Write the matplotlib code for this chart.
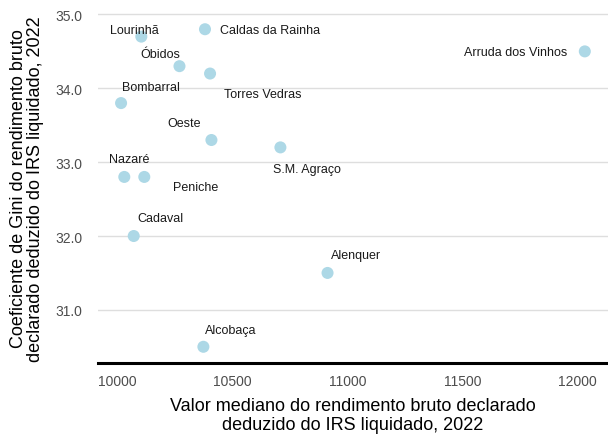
import numpy as np
import matplotlib
matplotlib.use("Agg")
import matplotlib.pyplot as plt

plt.rcParams['font.family'] = ['Liberation Sans', 'DejaVu Sans']

# municipios do Oeste + sub-regiao
concelhos = ['Lourinhã', 'Caldas da Rainha', 'Arruda dos Vinhos', 'Óbidos',
             'Torres Vedras', 'Bombarral', 'Oeste', 'S.M. Agraço', 'Nazaré',
             'Peniche', 'Cadaval', 'Alenquer', 'Alcobaça']
mediano = [10104, 10381, 12033, 10270, 10403, 10016, 10409, 10709, 10030,
           10117, 10071, 10914, 10374]
gini = [34.7, 34.8, 34.5, 34.3, 34.2, 33.8, 33.3, 33.2, 32.8,
        32.8, 32.0, 31.5, 30.5]

# label offsets in pixels (repel-like placement)
offsets = {
    'Lourinhã': (-7, 7), 'Caldas da Rainha': (65, -1), 'Arruda dos Vinhos': (-69, -1),
    'Óbidos': (-19, 12), 'Torres Vedras': (53, -20), 'Bombarral': (30, 16),
    'Oeste': (-27, 17), 'S.M. Agraço': (27, -22), 'Nazaré': (5, 18),
    'Peniche': (51, -10), 'Cadaval': (27, 18), 'Alenquer': (28, 18),
    'Alcobaça': (27, 17),
}

fig = plt.figure(figsize=(6.08, 4.35), dpi=100)
ax = fig.add_axes([0.161, 0.164, 0.839, 0.803])

ax.scatter(mediano, gini, s=75, color='#ADD8E6', edgecolors='none', zorder=3)
for nome, x, y in zip(concelhos, mediano, gini):
    dx, dy = offsets[nome]
    ax.annotate(nome, (x, y), xytext=(dx, dy), textcoords='offset pixels',
                ha='center', va='center', fontsize=9, color='#1a1a1a', zorder=4)

span_x = max(mediano) - min(mediano)
span_y = max(gini) - min(gini)
ax.set_xlim(min(mediano) - 0.05 * span_x, max(mediano) + 0.05 * span_x)
ax.set_ylim(min(gini) - 0.05 * span_y, max(gini) + 0.05 * span_y)

ax.set_xticks([10000, 10500, 11000, 11500, 12000])
ax.set_yticks([31, 32, 33, 34, 35])
ax.set_yticklabels(['31.0', '32.0', '33.0', '34.0', '35.0'])
ax.tick_params(length=0, labelsize=10, labelcolor='#4d4d4d')
ax.tick_params(axis='y', pad=11)
ax.tick_params(axis='x', pad=8)

ax.grid(axis='y', color='#dedede', linewidth=1.0)
ax.set_axisbelow(True)
for s in ['top', 'right', 'left']:
    ax.spines[s].set_visible(False)
ax.spines['bottom'].set_linewidth(2.2)
ax.spines['bottom'].set_color('black')

ax.set_xlabel('Valor mediano do rendimento bruto declarado\ndeduzido do IRS liquidado, 2022',
              fontsize=13, labelpad=7, linespacing=1.15)
ax.set_ylabel('Coeficiente de Gini do rendimento bruto\ndeclarado deduzido do IRS liquidado, 2022',
              fontsize=13, labelpad=8, linespacing=1.05)

fig.savefig('out.png', dpi=100)
